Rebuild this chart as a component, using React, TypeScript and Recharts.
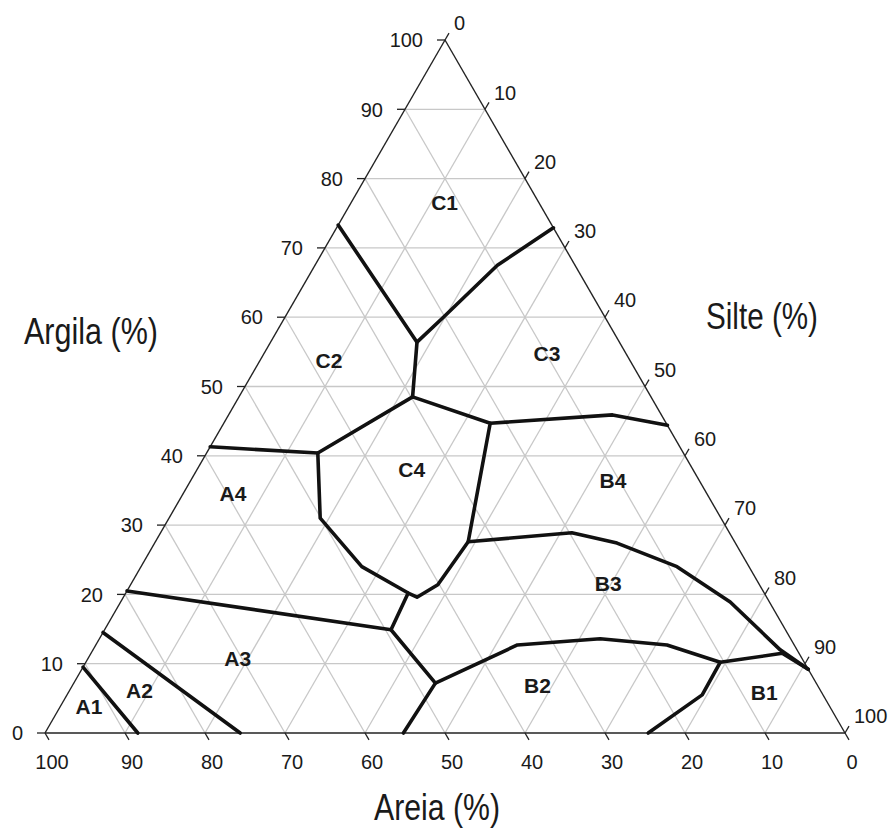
import { ScatterChart, Scatter, XAxis, YAxis, ReferenceLine, Customized } from "recharts"

// divisas entre classes, pontos em [areia %, argila %]
const divisaA1A2 = [[90.5, 9.5], [88.4, 0]]
const divisaA2A3 = [[85.5, 14.5], [75.6, 0]]
const divisaA3A4 = [[79.5, 20.5], [49.3, 14.9]]
const divisaA4C2 = [[58.7, 41.3], [45.7, 40.4]]
const contornoC4 = [
  [45.7, 40.4], [50.1, 31.0], [48.4, 24.0], [44.5, 20.2], [43.7, 19.6],
  [40.2, 21.4], [33.3, 27.6], [22.0, 44.7], [29.8, 48.5], [45.7, 40.4],
]
const divisaC1C2 = [[29.8, 48.5], [25.3, 56.4], [26.7, 73.3]]
const divisaC1C3 = [[25.3, 56.4], [20.2, 60.0], [9.7, 67.5], [0, 72.9]]
const divisaC3B4 = [[22.0, 44.7], [6.1, 45.9], [0, 44.4]]
const divisaB3B4 = [[33.3, 27.6], [19.7, 28.9], [14.8, 27.4], [9.0, 24.0], [4.9, 18.9], [2.1, 12.0], [0, 9.2]]
const divisaA3B2 = [[44.5, 20.2], [49.3, 14.9], [47.6, 7.2], [55.2, 0]]
const divisaB2B3 = [[47.6, 7.2], [34.6, 12.7], [23.8, 13.6], [15.9, 12.7], [10.5, 10.2], [2.1, 11.5], [0, 9.2]]
const divisaB1 = [[10.5, 10.2], [15.1, 5.5], [24.6, 0]]

const divisas = [
  divisaA1A2, divisaA2A3, divisaA3A4, divisaA4C2, contornoC4, divisaC1C2,
  divisaC1C3, divisaC3B4, divisaB3B4, divisaA3B2, divisaB2B3, divisaB1,
]

// rótulos das classes
const classes = ["A1", "A2", "A3", "A4", "B1", "B2", "B3", "B4", "C1", "C2", "C3", "C4"]
const classeAreia = [92.6, 85.1, 70.5, 59.2, 7.2, 35.0, 18.8, 10.8, 11.8, 37.6, 9.9, 35.1]
const classeArgila = [3.8, 6.2, 10.8, 34.6, 5.8, 6.9, 21.6, 36.4, 76.5, 53.8, 54.7, 38.1]

const marcas = [0, 10, 20, 30, 40, 50, 60, 70, 80, 90, 100]
const grade = [10, 20, 30, 40, 50, 60, 70, 80, 90]

// ternário -> plano: x = silte + argila/2, y = argila
const plano = (areia: number, argila: number) => ({ x: 100 - areia - argila / 2, y: argila })

const FONTE = "'Liberation Sans', Arial, Helvetica, sans-serif"
const CINZA = "#c8c8c8"

const noShape = () => <g />

function Titulos() {
  const estilo = { fontFamily: FONTE, fontSize: 37, fill: "#1a1a1a" }
  return (
    <g>
      <text x={24} y={344} textLength={134} lengthAdjust="spacingAndGlyphs" {...estilo}>Argila (%)</text>
      <text x={706} y={329} textLength={112} lengthAdjust="spacingAndGlyphs" {...estilo}>Silte (%)</text>
      <text x={374} y={820} textLength={126} lengthAdjust="spacingAndGlyphs" {...estilo}>Areia (%)</text>
    </g>
  )
}

export default function App() {
  const bordas = [
    [plano(100, 0), plano(0, 0)],
    [plano(100, 0), plano(0, 100)],
    [plano(0, 100), plano(0, 0)],
  ]

  // linhas da grade paralelas aos três lados
  const linhasGrade = grade.flatMap((v) => [
    [plano(100 - v, v), plano(0, v)],
    [plano(100 - v, 0), plano(0, 100 - v)],
    [plano(v, 0), plano(v, 100 - v)],
  ])

  // tracinhos dos eixos, continuação das linhas da grade para fora
  const tracos = marcas.flatMap((v) => {
    const e = plano(100 - v, v)
    const d = plano(0, 100 - v)
    const b = plano(v, 0)
    return [
      [e, { x: e.x - 1, y: e.y }],
      [d, { x: d.x + 0.5, y: d.y + 1 }],
      [b, { x: b.x + 0.5, y: b.y - 1 }],
    ]
  })

  const rotArgila = marcas.map((v) => ({ ...plano(100 - v, v), label: v }))
  const rotSilte = marcas.map((v) => ({ ...plano(0, 100 - v), label: v }))
  const rotAreia = marcas.map((v) => ({ ...plano(v, 0), label: v }))
  const rotClasses = classes.map((c, i) => ({ ...plano(classeAreia[i], classeArgila[i]), label: c }))

  const txt = { fontFamily: FONTE, fontSize: 20, fill: "#1a1a1a" }

  return (
    <div style={{ position: "absolute", left: 0, top: 0, background: "#fff" }}>
      <ScatterChart width={894} height={829} margin={{ top: 40, right: 49, bottom: 96, left: 45 }}>
        <XAxis type="number" dataKey="x" domain={[0, 100]} hide />
        <YAxis type="number" dataKey="y" domain={[0, 100]} hide />

        {linhasGrade.map((s, i) => (
          <ReferenceLine key={"g" + i} segment={s} stroke={CINZA} strokeWidth={1.3} ifOverflow="visible" />
        ))}
        {tracos.map((s, i) => (
          <ReferenceLine key={"t" + i} segment={s} stroke="#222" strokeWidth={1.3} ifOverflow="visible" />
        ))}
        {bordas.map((s, i) => (
          <ReferenceLine key={"b" + i} segment={s} stroke="#222" strokeWidth={1.4} ifOverflow="visible" />
        ))}

        {divisas.map((d, i) => (
          <Scatter
            key={"d" + i}
            data={d.map(([a, c]) => plano(a, c))}
            line={{ stroke: "#111", strokeWidth: 3.6, strokeLinejoin: "round", strokeLinecap: "round" }}
            shape={noShape}
            isAnimationActive={false}
          />
        ))}

        <Scatter
          data={rotArgila}
          isAnimationActive={false}
          shape={(p: any) => (
            <text x={p.cx - 22} y={p.cy} dy="0.36em" textAnchor="end" {...txt}>{p.payload.label}</text>
          )}
        />
        <Scatter
          data={rotSilte}
          isAnimationActive={false}
          shape={(p: any) => (
            <text x={p.cx + 9} y={p.cy - 17} dy="0.36em" textAnchor="start" {...txt}>{p.payload.label}</text>
          )}
        />
        <Scatter
          data={rotAreia}
          isAnimationActive={false}
          shape={(p: any) => (
            <text x={p.cx + 7} y={p.cy + 29} dy="0.36em" textAnchor="middle" {...txt}>{p.payload.label}</text>
          )}
        />
        <Scatter
          data={rotClasses}
          isAnimationActive={false}
          shape={(p: any) => (
            <text x={p.cx} y={p.cy} dy="0.36em" textAnchor="middle" {...txt} fontWeight="bold" fontSize={21}>
              {p.payload.label}
            </text>
          )}
        />
        <Customized component={<Titulos />} />
      </ScatterChart>
    </div>
  )
}
